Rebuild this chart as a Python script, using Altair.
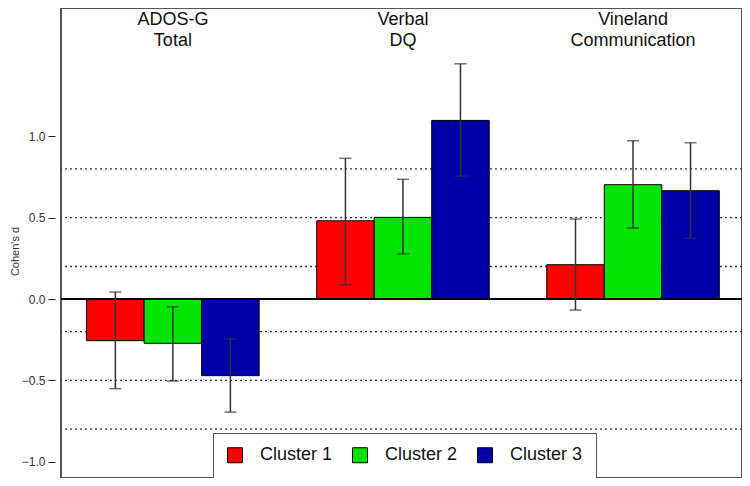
import altair as alt
import pandas as pd

groups = ["ADOS-G\nTotal", "Verbal\nDQ", "Vineland\nCommunication"]
clusters = ["Cluster 1", "Cluster 2", "Cluster 3"]
colors = ["#ff0000", "#00e400", "#0000a8"]

# Cohen's d per group, for each cluster
d_c1 = [-0.256, 0.481, 0.211]
d_c2 = [-0.272, 0.502, 0.703]
d_c3 = [-0.471, 1.098, 0.666]
lo_c1 = [-0.551, 0.088, -0.068]
lo_c2 = [-0.504, 0.277, 0.436]
lo_c3 = [-0.695, 0.756, 0.373]
hi_c1 = [0.043, 0.865, 0.492]
hi_c2 = [-0.047, 0.736, 0.973]
hi_c3 = [-0.245, 1.446, 0.961]

grid_vals = [-0.8, -0.5, -0.2, 0.2, 0.5, 0.8]
y_ticks = [-1.0, -0.5, 0.0, 0.5, 1.0]

ds = [d_c1, d_c2, d_c3]
los = [lo_c1, lo_c2, lo_c3]
his = [hi_c1, hi_c2, hi_c3]
rows = []
for ci, c in enumerate(clusters):
    for gi, g in enumerate(groups):
        rows.append({"group": g, "cluster": c, "d": ds[ci][gi],
                     "lo": los[ci][gi], "hi": his[ci][gi]})
df = pd.DataFrame(rows)
grid_df = pd.DataFrame({"v": grid_vals})
title_df = pd.DataFrame({"group": groups})

FONT = "Liberation Sans"

x_enc = alt.X("group:N", sort=groups, axis=None,
              scale=alt.Scale(paddingInner=0.25, paddingOuter=0.105, align=0.53))
xo_enc = alt.XOffset("cluster:N", sort=clusters,
                     scale=alt.Scale(paddingInner=0, paddingOuter=0))
y_scale = alt.Scale(domain=[-1.100, 1.789], nice=False, zero=False)

grid = alt.Chart(grid_df).mark_rule(strokeDash=[2, 3], color="#333", strokeWidth=1.3).encode(
    y=alt.Y("v:Q", scale=y_scale)
)

bars = alt.Chart(df).mark_bar(stroke="black", strokeWidth=1).encode(
    x=x_enc,
    xOffset=xo_enc,
    y=alt.Y("d:Q", scale=y_scale,
            axis=alt.Axis(title="Cohen's d", values=y_ticks, format=".1f",
                          grid=False, domain=False, offset=6, tickSize=7,
                          tickColor="#222", labelPadding=3, labelFontSize=12,
                          labelColor="#333", labelFont=FONT, titleFont=FONT,
                          titleFontSize=11, titleFontWeight="normal",
                          titleColor="#333", titleX=-40, titleY=243,
                          titleBaseline="middle")),
    y2=alt.datum(0),
    color=alt.Color("cluster:N", scale=alt.Scale(domain=clusters, range=colors),
                    legend=alt.Legend(title=None, orient="none", legendX=152, legendY=425,
                                      direction="horizontal", columns=3,
                                      symbolType="square", symbolSize=225,
                                      symbolStrokeColor="black", symbolStrokeWidth=1,
                                      labelFontSize=18, labelFont=FONT, labelColor="#111",
                                      labelOffset=16, columnPadding=17, padding=13,
                                      strokeColor="#555", fillColor="white")),
)

zero = alt.Chart(df).mark_rule(color="black", strokeWidth=1).encode(
    y=alt.datum(0)
)

err = alt.Chart(df).mark_rule(color="#333", strokeWidth=1.5).encode(
    x=x_enc, xOffset=xo_enc,
    y=alt.Y("lo:Q", scale=y_scale), y2="hi:Q"
)
cap_lo = alt.Chart(df).mark_tick(color="#333", size=12, thickness=1.5).encode(
    x=x_enc, xOffset=xo_enc, y=alt.Y("lo:Q", scale=y_scale)
)
cap_hi = alt.Chart(df).mark_tick(color="#333", size=12, thickness=1.5).encode(
    x=x_enc, xOffset=xo_enc, y=alt.Y("hi:Q", scale=y_scale)
)

titles = alt.Chart(title_df).mark_text(
    baseline="top", align="center", fontSize=18, font=FONT, lineBreak="\n",
    lineHeight=21, color="#111"
).encode(
    x=x_enc, y=alt.value(3), text="group:N"
)

chart = alt.layer(grid, bars, zero, err, cap_lo, cap_hi, titles).properties(
    width=681, height=470,
    autosize=alt.AutoSizeParams(type="none"),
    padding={"left": 53, "top": 0, "right": 0, "bottom": 0},
).configure_view(stroke="#555", strokeWidth=2)

chart.save("out.html", embed_options={"renderer": "svg", "actions": False})
